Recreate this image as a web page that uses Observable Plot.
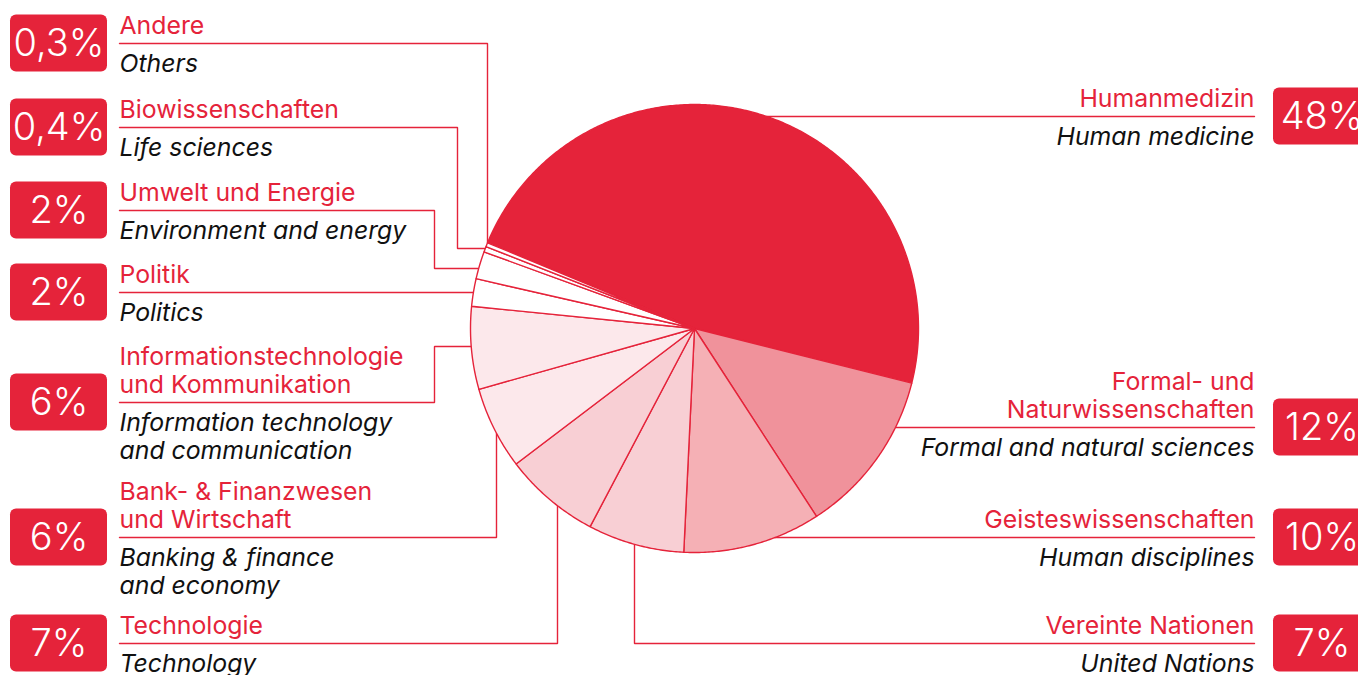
<!DOCTYPE html>
<html><head><meta charset="utf-8">
<script src="https://cdn.jsdelivr.net/npm/d3@7"></script>
<script src="https://cdn.jsdelivr.net/npm/@observablehq/plot@0.6"></script>
<style>html,body{margin:0;padding:0;background:#fff;overflow:hidden} svg{display:block}</style>
</head><body><div id="chart"></div>
<script>
// ---------- DATA ----------
const categoriesDe = ["Humanmedizin", "Formal- und\nNaturwissenschaften", "Geisteswissenschaften", "Vereinte Nationen", "Technologie", "Bank- & Finanzwesen\nund Wirtschaft", "Informationstechnologie\nund Kommunikation", "Politik", "Umwelt und Energie", "Biowissenschaften", "Andere"];
const categoriesEn = ["Human medicine", "Formal and natural sciences", "Human disciplines", "United Nations", "Technology", "Banking & finance\nand economy", "Information technology\nand communication", "Politics", "Environment and energy", "Life sciences", "Others"];
const shares = [48, 12, 10, 7, 7, 6, 6, 2, 2, 0.4, 0.3];
const shareLabels = ["48%", "12%", "10%", "7%", "7%", "6%", "6%", "2%", "2%", "0,4%", "0,3%"];

// ---------- STYLE / LAYOUT ----------
const W = 1358, H = 675;
const RED = "#e5233a";
const sliceFills = ["#e5233a", "#f0929b", "#f5b0b5", "#f8cfd4", "#f8cfd4", "#fce8eb", "#fce8eb", "#ffffff", "#ffffff", "#ffffff", "#ffffff"];
const pieCenter = [694, 328], pieRadius = 224, startDeg = -67.5;
const FONT = "Inter, 'Open Sans', sans-serif";
const labelSize = 24.8, badgeSize = 38;
const layout = [
  {side: "right", lineY: 116},
  {side: "right", lineY: 427},
  {side: "right", lineY: 537},
  {side: "right", lineY: 643, elbowX: 634},
  {side: "left", lineY: 643, elbowX: 557},
  {side: "left", lineY: 537, elbowX: 496},
  {side: "left", lineY: 402, elbowX: 434, endY: 346},
  {side: "left", lineY: 292},
  {side: "left", lineY: 210, elbowX: 434, endY: 268},
  {side: "left", lineY: 127, elbowX: 457, endY: 248},
  {side: "left", lineY: 43, elbowX: 487}
];
const textX = {left: 119, right: 1254};
const badgeX = {left: [10, 107], right: [1273, 1370]};
const badgeHalf = 28.5, lineGap = 28, aboveGap = 10, belowGap = 28;

// ---------- GEOMETRY ----------
const [cx, cy] = pieCenter, r = pieRadius;
const a0 = startDeg * Math.PI / 180;
const arcs = d3.pie().sort(null).startAngle(a0).endAngle(a0 + 2 * Math.PI)(shares);
const pt = a => ({x: cx + r * Math.sin(a), y: cy - r * Math.cos(a)});
const slices = arcs.map((a, i) => {
  const pts = [{x: cx, y: cy}];
  const n = Math.max(2, Math.ceil((a.endAngle - a.startAngle) / (Math.PI / 360)));
  for (let k = 0; k <= n; k++) pts.push(pt(a.startAngle + (a.endAngle - a.startAngle) * k / n));
  pts.push({x: cx, y: cy});
  return pts;
});

const leaders = [];
layout.forEach((L, i) => {
  const sx = textX[L.side];
  const sgnX = L.side === "left" ? -1 : 1;
  const pts = [{x: sx, y: L.lineY}];
  if (L.elbowX == null) {
    pts.push({x: cx + sgnX * Math.sqrt(r * r - (L.lineY - cy) ** 2), y: L.lineY});
  } else if (L.endY == null) {
    pts.push({x: L.elbowX, y: L.lineY});
    const sgnY = L.lineY < cy ? -1 : 1;
    pts.push({x: L.elbowX, y: cy + sgnY * Math.sqrt(r * r - (L.elbowX - cx) ** 2)});
  } else {
    pts.push({x: L.elbowX, y: L.lineY});
    pts.push({x: L.elbowX, y: L.endY});
    pts.push({x: cx + sgnX * Math.sqrt(r * r - (L.endY - cy) ** 2), y: L.endY});
  }
  pts.forEach(p => leaders.push({...p, key: i}));
});

const deRows = [], enRows = [], badges = [];
layout.forEach((L, i) => {
  const anchor = L.side === "left" ? "start" : "end";
  const de = categoriesDe[i].split("\n");
  de.forEach((t, k) => deRows.push({x: textX[L.side], y: L.lineY - aboveGap - (de.length - 1 - k) * lineGap, text: t, anchor}));
  const en = categoriesEn[i].split("\n");
  en.forEach((t, k) => enRows.push({x: textX[L.side], y: L.lineY + belowGap + k * lineGap, text: t, anchor}));
  const [x1, x2] = badgeX[L.side];
  badges.push({x1, x2, y1: L.lineY - badgeHalf, y2: L.lineY + badgeHalf, xc: (x1 + x2) / 2, yc: L.lineY, text: shareLabels[i]});
});

const marks = [
  Plot.line(leaders, {x: "x", y: "y", z: "key", stroke: RED, strokeWidth: 1.4, strokeLinejoin: "miter"})
];
slices.forEach((s, i) => marks.push(Plot.line(s, {x: "x", y: "y", fill: sliceFills[i], stroke: RED, strokeWidth: 1.4, strokeLinejoin: "round"})));
marks.push(
  Plot.rect(badges, {x1: "x1", x2: "x2", y1: "y1", y2: "y2", fill: RED, rx: 6}),
  Plot.text(badges, {x: "xc", y: "yc", text: "text", fill: "white", fontSize: badgeSize, fontWeight: 300, textAnchor: "middle", lineAnchor: "middle"}),
  Plot.text(deRows.filter(d => d.anchor === "start"), {x: "x", y: "y", text: "text", fill: RED, fontSize: labelSize, textAnchor: "start", lineAnchor: "bottom"}),
  Plot.text(deRows.filter(d => d.anchor === "end"), {x: "x", y: "y", text: "text", fill: RED, fontSize: labelSize, textAnchor: "end", lineAnchor: "bottom"}),
  Plot.text(enRows.filter(d => d.anchor === "start"), {x: "x", y: "y", text: "text", fill: "#111", fontSize: labelSize, fontStyle: "italic", textAnchor: "start", lineAnchor: "bottom"}),
  Plot.text(enRows.filter(d => d.anchor === "end"), {x: "x", y: "y", text: "text", fill: "#111", fontSize: labelSize, fontStyle: "italic", textAnchor: "end", lineAnchor: "bottom"})
);

const chart = Plot.plot({
  width: W, height: H, margin: 0,
  x: {domain: [0, W], range: [0, W], axis: null},
  y: {domain: [0, H], range: [0, H], axis: null},
  style: {fontFamily: FONT, background: "white"},
  marks
});
document.getElementById("chart").appendChild(chart);
</script>
</body></html>
